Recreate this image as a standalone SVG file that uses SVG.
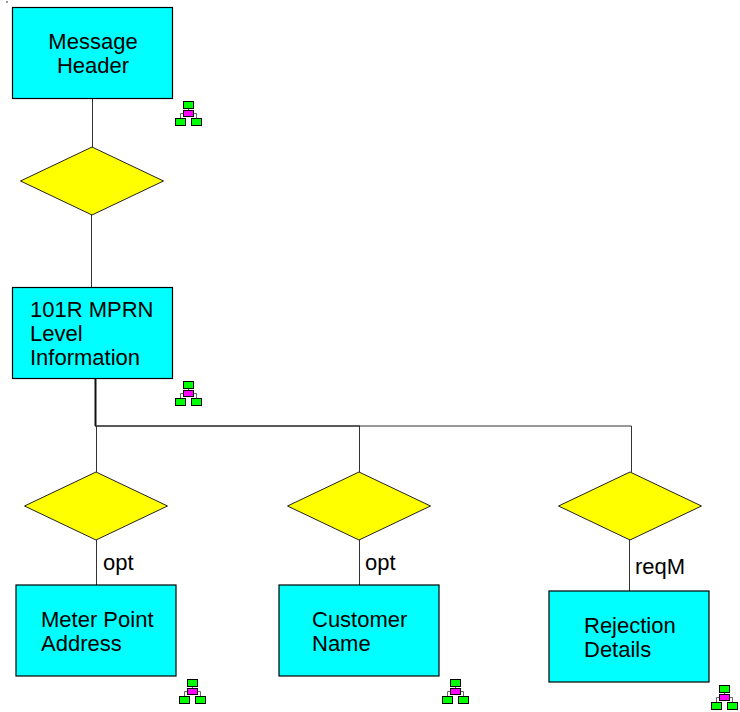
<svg xmlns="http://www.w3.org/2000/svg" xmlns:xlink="http://www.w3.org/1999/xlink" width="740" height="712" viewBox="0 0 740 712">
<style>
.box{fill:#00ffff;stroke:#000;stroke-width:1.2}
.dia{fill:#ffff00;stroke:#222;stroke-width:1}
.c{fill:none;stroke:#333;stroke-width:1}
.t{font-family:"Liberation Sans",Arial,sans-serif;font-size:22px;fill:#000}
.g{fill:#00ff00;stroke:#000;stroke-width:1}
.m{fill:#ff00ff;stroke:#000;stroke-width:1}
.l{fill:none;stroke:#666;stroke-width:1}
</style>
<defs>
<g id="ico">
<path class="l" d="M5.500 7V10M-2.500 17V12.500H13.500V17"/>
<rect class="g" x="0.500" y="0.500" width="10" height="7"/>
<rect class="m" x="0.500" y="9.500" width="10" height="6"/>
<rect class="g" x="-7.500" y="17.500" width="10" height="7"/>
<rect class="g" x="8.500" y="17.500" width="10" height="7"/>
</g>
</defs>
<rect x="6" y="1" width="2" height="2" fill="#999"/>
<g id="connectors">
<path class="c" d="M92.500 98V148M91.500 214V288"/>
<path d="M95.500 378V426" fill="none" stroke="#111" stroke-width="2"/>
<path d="M95 426H360" fill="none" stroke="#222" stroke-width="1.300"/>
<path class="c" d="M360 426H631.500M96.500 426V472M359.500 426V472M631.500 426V472M96.500 540V585M359.500 540V585M629.500 539V591"/>
</g>
<g id="n1"><rect class="box" x="12.500" y="7.500" width="160" height="91"/><text class="t" x="93" y="48.500" text-anchor="middle">Message</text><text class="t" x="93" y="72.500" text-anchor="middle">Header</text></g>
<use xlink:href="#ico" href="#ico" x="183" y="101"/>
<g id="d1"><polygon class="dia" points="92,147 163.500,181 92,215 20.500,181"/></g>
<g id="n2"><rect class="box" x="12.500" y="287.500" width="160" height="91"/><text class="t" x="30" y="316.500">101R MPRN</text><text class="t" x="30" y="340.500">Level</text><text class="t" x="30" y="364.500">Information</text></g>
<use xlink:href="#ico" href="#ico" x="183" y="381"/>
<g id="d2"><polygon class="dia" points="96,472 167.500,506 96,540 24.500,506"/></g>
<g id="d3"><polygon class="dia" points="359,472 430.500,506 359,540 287.500,506"/></g>
<g id="d4"><polygon class="dia" points="630,472 701.500,506 630,540 558.500,506"/></g>
<text class="t" x="103" y="569.500">opt</text>
<text class="t" x="365" y="569.500">opt</text>
<text class="t" x="635" y="573.500">reqM</text>
<g id="n3"><rect class="box" x="16" y="585" width="160" height="91"/><text class="t" x="41" y="626.500">Meter Point</text><text class="t" x="41" y="650.500">Address</text></g>
<use xlink:href="#ico" href="#ico" x="187" y="679"/>
<g id="n4"><rect class="box" x="279" y="585" width="160" height="91"/><text class="t" x="312" y="626.500">Customer</text><text class="t" x="312" y="650.500">Name</text></g>
<use xlink:href="#ico" href="#ico" x="450" y="679"/>
<g id="n5"><rect class="box" x="549" y="591" width="160" height="91"/><text class="t" x="584" y="632.500">Rejection</text><text class="t" x="584" y="656.500">Details</text></g>
<use xlink:href="#ico" href="#ico" x="719" y="685"/>
</svg>
